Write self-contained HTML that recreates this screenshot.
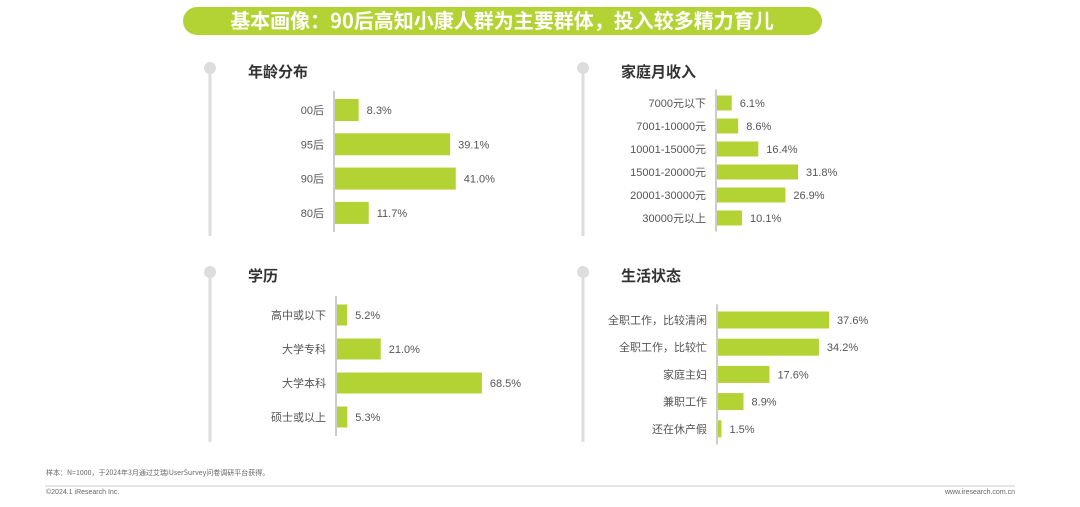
<!DOCTYPE html>
<html><head><meta charset="utf-8"><style>
body{margin:0;background:#fff;}
#c{position:relative;width:1080px;height:507px;overflow:hidden;font-family:"Liberation Sans","Noto Sans CJK SC",sans-serif;}
</style></head><body>
<div id="c">
<svg id="s" width="1080" height="507" style="position:absolute;left:0;top:0">
<rect x="183" y="7" width="639" height="28" rx="14" fill="#b3d234"/>
<text x="502" y="28" text-anchor="middle" fill="#fff" font-size="20" font-weight="bold" font-family="Noto Sans CJK SC,sans-serif">基本画像：90后高知小康人群为主要群体，投入较多精力育儿</text>
<line x1="45" y1="486" x2="1015" y2="486" stroke="#ccc" stroke-width="1"/>
<text x="46" y="475" font-size="7" fill="#666" font-family="Noto Sans CJK SC,sans-serif">样本：N=1000，于2024年3月通过艾瑞iUserSurvey问卷调研平台获得。</text>
<text x="46" y="494" font-size="7" fill="#666">©2024.1 iResearch Inc.</text>
<text x="1015" y="494" font-size="7" fill="#666" text-anchor="end">www.iresearch.com.cn</text>
</svg>
<script>
const ageCats=["00后","95后","90后","80后"];
const ageVals=[8.3,39.1,41.0,11.7];
const incCats=["7000元以下","7001-10000元","10001-15000元","15001-20000元","20001-30000元","30000元以上"];
const incVals=[6.1,8.6,16.4,31.8,26.9,10.1];
const eduCats=["高中或以下","大学专科","大学本科","硕士或以上"];
const eduVals=[5.2,21.0,68.5,5.3];
const lifeCats=["全职工作，比较清闲","全职工作，比较忙","家庭主妇","兼职工作","还在休产假"];
const lifeVals=[37.6,34.2,17.6,8.9,1.5];
const s=document.getElementById('s');
const NS='http://www.w3.org/2000/svg';
function mk(t,a,txt){const e=document.createElementNS(NS,t);for(const k in a)e.setAttribute(k,a[k]);if(txt!==undefined)e.textContent=txt;s.appendChild(e);return e;}
function panel(cfg,cats,vals){
  const tl=mk('line',{x1:cfg.dx,y1:cfg.dy,x2:cfg.dx,y2:cfg.dy+cfg.tlen,stroke:'#ddd','stroke-width':3});
  
  
  const d=mk('circle',{cx:cfg.dx,cy:cfg.dy,r:6,fill:'#ddd'});
  
  
  const t=mk('text',{x:cfg.dx+38,y:cfg.dy+9,'font-size':15,'font-weight':'bold',fill:'#333','font-family':'Noto Sans CJK SC,sans-serif'},cfg.title);
  
  
  const xs=v=>cfg.ax+v*cfg.k;
  const ys=i=>cfg.y0+i*cfg.pitch;
  const ax=mk('line',{x1:cfg.ax,y1:ys(0)-cfg.pitch/2-2,x2:cfg.ax,y2:ys(cats.length-1)+cfg.pitch/2+2,stroke:'#999','stroke-width':1});
  
  
  cats.forEach((c,i)=>{
    const y=ys(i);
    const l=mk('text',{x:cfg.ax-10,y:y+4,'font-size':11,fill:'#555','text-anchor':'end','font-family':'Liberation Sans,Noto Sans CJK SC,sans-serif'},c);
    
    
    const b=mk('rect',{x:cfg.ax+1,y:y-cfg.bh/2,width:Math.max(1,xs(vals[i])-cfg.ax-1),height:cfg.bh,fill:'#b3d234'});
    
    
    const v=mk('text',{x:xs(vals[i])+8,y:y+4,'font-size':11,fill:'#555'},vals[i].toFixed(1)+'%');
    
    
  });
}
panel({name:'age',title:'年龄分布',dx:210,dy:68,tlen:168,ax:334,k:2.97,y0:110,pitch:34.3,bh:22},ageCats,ageVals);
panel({name:'income',title:'家庭月收入',dx:583,dy:68,tlen:168,ax:716,k:2.58,y0:103,pitch:23,bh:15},incCats,incVals);
panel({name:'education',title:'学历',dx:210,dy:272,tlen:170,ax:336,k:2.13,y0:315,pitch:34,bh:21},eduCats,eduVals);
panel({name:'life',title:'生活状态',dx:583,dy:272,tlen:170,ax:717,k:2.98,y0:320,pitch:27.2,bh:17},lifeCats,lifeVals);
</script>
</div>
</body></html>
